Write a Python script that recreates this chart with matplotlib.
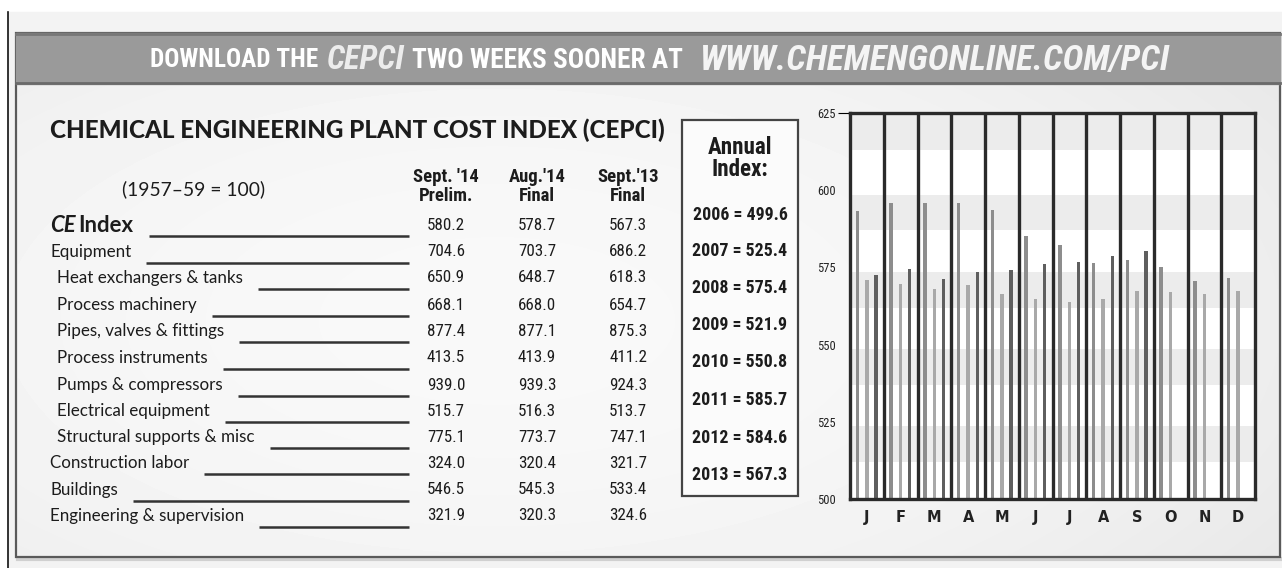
import numpy as np
import matplotlib
matplotlib.use('Agg')
import matplotlib.pyplot as plt
from matplotlib import font_manager
from matplotlib.patches import Rectangle

# ---- data ----
months = ['J', 'F', 'M', 'A', 'M', 'J', 'J', 'A', 'S', 'O', 'N', 'D']
cepci_2012 = [593.4, 595.9, 595.7, 595.7, 593.5, 585.3, 582.1, 576.3, 577.3, 575.2, 570.6, 571.7]
cepci_2013 = [570.8, 569.7, 568.1, 569.2, 566.5, 564.7, 563.8, 564.7, 567.3, 567.1, 566.3, 567.3]
cepci_2014 = [572.7, 574.6, 571.3, 573.5, 574.0, 576.0, 576.8, 578.7, 580.2]
y_ticks = [500, 525, 550, 575, 600, 625]

row_labels = ['CE Index', 'Equipment', 'Heat exchangers & tanks', 'Process machinery',
              'Pipes, valves & fittings', 'Process instruments', 'Pumps & compressors',
              'Electrical equipment', 'Structural supports & misc', 'Construction labor',
              'Buildings', 'Engineering & supervision']
row_indent = [0, 0, 1, 1, 1, 1, 1, 1, 1, 0, 0, 0]
sep14 = ['580.2', '704.6', '650.9', '668.1', '877.4', '413.5', '939.0', '515.7', '775.1', '324.0', '546.5', '321.9']
aug14 = ['578.7', '703.7', '648.7', '668.0', '877.1', '413.9', '939.3', '516.3', '773.7', '320.4', '545.3', '320.3']
sep13 = ['567.3', '686.2', '618.3', '654.7', '875.3', '411.2', '924.3', '513.7', '747.1', '321.7', '533.4', '324.6']
col_heads = [("Sept. '14", 'Prelim.'), ("Aug.'14", 'Final'), ("Sept.'13", 'Final')]

annual_years = [2006, 2007, 2008, 2009, 2010, 2011, 2012, 2013]
annual_values = [499.6, 525.4, 575.4, 521.9, 550.8, 585.7, 584.6, 567.3]

# ---- fonts ----
names = {f.name for f in font_manager.fontManager.ttflist}
narrow = 'DejaVu Sans'
for cand in ['Liberation Sans Narrow', 'Roboto Condensed', 'Roboto']:
    if cand in names:
        narrow = cand
        break
body = 'Lato' if 'Lato' in names else 'DejaVu Sans'
ink = '#1c1c1c'

W, H = 1282, 568
fig = plt.figure(figsize=(W / 100, H / 100), dpi=100)
bg = fig.add_axes([0, 0, 1, 1])
bg.axis('off')
bg.set_xlim(0, W)
bg.set_ylim(H, 0)
bg.set_autoscale_on(False)
r = fig.canvas.get_renderer()


def fit(t, width):
    w = t.get_window_extent(renderer=r).width
    t.set_fontsize(t.get_fontsize() * width / w)
    return t


def right_of(t):
    bb = t.get_window_extent(renderer=r)
    return bg.transData.inverted().transform((bb.x1, bb.y0))[0]


# ---- page / panel ----
bg.add_patch(Rectangle((8, 12), W - 8, H - 12, color='#f3f3f3', zorder=0))
bg.plot([8, 8], [12, H], color='#111111', lw=1.2, zorder=1)

yy, xx = np.mgrid[0:1:120j, 0:1:240j]
shade = 0.975 - 0.09 * (1.3 * (xx - 0.38) ** 2 + (yy - 0.55) ** 2)
bg.imshow(shade, cmap='gray', vmin=0, vmax=1, extent=(16, 1280, 557, 33),
          aspect='auto', zorder=1, interpolation='bilinear')
bg.add_patch(Rectangle((16, 33), 1264, 524, fill=False, ec='#5a5a5a', lw=1.6, zorder=2))
bg.plot([18, 1280], [559, 559], color='#d0d0d0', lw=3, zorder=1)

# banner
bg.add_patch(Rectangle((16, 33), 1264, 51, color='#9a9a9a', zorder=2))
bg.plot([16, 1280], [34, 34], color='#777777', lw=2, zorder=3)
bg.plot([16, 1280], [83, 83], color='#6a6a6a', lw=2, zorder=3)

banner = [(150, 168, 'DOWNLOAD THE', 'normal', 'white'),
          (327, 78, 'CEPCI', 'italic', '#ececec'),
          (412, 271, 'TWO WEEKS SOONER AT', 'normal', 'white'),
          (700, 470, 'WWW.CHEMENGONLINE.COM/PCI', 'italic', '#f4f4f4')]
for x0, wd, s, st, c in banner:
    t = bg.text(x0, 60, s, color=c, fontsize=16, fontweight='bold', style=st,
                family=narrow, ha='left', va='center', zorder=4)
    fit(t, wd)

# ---- table ----
t = bg.text(50, 130, 'CHEMICAL ENGINEERING PLANT COST INDEX (CEPCI)', fontsize=16,
            fontweight=900, family=body, color=ink, ha='left', va='center', zorder=4)
fit(t, 616)
t = bg.text(194, 189, '(1957\u201359 = 100)', fontsize=11, family=body, color=ink,
            ha='center', va='center', zorder=4)
fit(t, 143)

col_x = [446, 537, 628]
probe = bg.text(0, -50, "Sept. '14", fontsize=10, fontweight='bold', family=narrow)
fit(probe, 66)
head_fs = probe.get_fontsize()
probe.remove()
for cx, (h1, h2) in zip(col_x, col_heads):
    bg.text(cx, 177, h1, fontsize=head_fs, fontweight='bold', family=narrow, color=ink,
            ha='center', va='center', zorder=4)
    bg.text(cx, 196, h2, fontsize=head_fs, fontweight='bold', family=narrow, color=ink,
            ha='center', va='center', zorder=4)

probe = bg.text(0, -50, 'Heat exchangers & tanks', fontsize=10, family=body)
fit(probe, 186)
lab_fs = probe.get_fontsize()
probe.remove()
probe = bg.text(0, -50, '413.5', fontsize=10, family=narrow)
fit(probe, 38)
num_fs = probe.get_fontsize()
probe.remove()

row_y = [225, 252, 278, 305, 331, 358, 385, 411, 437, 463, 490, 516]
for i, lab in enumerate(row_labels):
    y = row_y[i]
    x = 57 if row_indent[i] else 50
    if i == 0:
        a = bg.text(50, y, 'CE', fontsize=lab_fs * 1.3, fontweight='bold', style='italic',
                    family=body, color=ink, ha='left', va='center', zorder=4)
        a = bg.text(right_of(a) + 3, y, 'Index', fontsize=lab_fs * 1.3, fontweight='bold',
                    family=body, color=ink, ha='left', va='center', zorder=4)
    else:
        a = bg.text(x, y, lab, fontsize=lab_fs, family=body, color=ink,
                    ha='left', va='center', zorder=4)
    bg.plot([right_of(a) + 15, 409], [y + 11, y + 11], color='#333333', lw=1.8,
            solid_capstyle='butt', zorder=4)
    for cx, col in zip(col_x, [sep14, aug14, sep13]):
        bg.text(cx, y, col[i], fontsize=num_fs, family=narrow, color=ink,
                ha='center', va='center', zorder=4)

# ---- annual index box ----
bg.add_patch(Rectangle((682, 120), 116, 376, fc='#fbfbfb', ec='#444444', lw=1.6, zorder=3))
t = bg.text(740, 147, 'Annual', fontsize=12, fontweight='bold', family=narrow, color=ink,
            ha='center', va='center', zorder=4)
fit(t, 64)
bg.text(740, 170, 'Index:', fontsize=t.get_fontsize(), fontweight='bold', family=narrow,
        color=ink, ha='center', va='center', zorder=4)
probe = bg.text(0, -50, '2006 = 499.6', fontsize=10, fontweight='bold', family=narrow)
fit(probe, 95)
ann_fs = probe.get_fontsize()
probe.remove()
ann_y = [215, 251, 288, 325, 362, 400, 438, 475]
for yr, v, y in zip(annual_years, annual_values, ann_y):
    bg.text(740, y, f'{yr} = {v:.1f}', fontsize=ann_fs, fontweight='bold', family=narrow,
            color=ink, ha='center', va='center', zorder=4)

# ---- monthly bar chart ----
ax = fig.add_axes([850 / W, 1 - 499 / H, 405 / W, 386 / H], zorder=5)
ax.set_facecolor('white')
for lo in [512, 537, 562, 587, 613]:
    ax.axhspan(lo, lo + 11.5, color='#ececec', lw=0, zorder=0)
x = np.arange(12)
ax.bar(x - 0.28, cepci_2012, width=0.1, color='#8d8d8d', zorder=2)
ax.bar(x, cepci_2013, width=0.1, color='#a9a9a9', zorder=2)
ax.bar(x[:len(cepci_2014)] + 0.27, cepci_2014, width=0.1, color='#5f5f5f', zorder=2)
for k in range(11):
    ax.axvline(k + 0.5, color='#2a2a2a', lw=2.4, zorder=3)
ax.set_xlim(-0.5, 11.5)
ax.set_ylim(500, 625)
for sp in ax.spines.values():
    sp.set_color('#2a2a2a')
    sp.set_linewidth(2.4)
ax.set_xticks(x)
ax.set_xticklabels(months, fontweight='bold', fontsize=10.5, color='#222222')
ax.set_yticks(y_ticks)
ax.set_yticklabels([str(v) for v in y_ticks], fontsize=9, family=narrow, color='#222222')
ax.tick_params(axis='x', length=0, pad=8)
ax.tick_params(axis='y', length=0, pad=10)
top_tick = ax.yaxis.get_major_ticks()[-1]
top_tick.tick1line.set_markersize(9)
top_tick.tick1line.set_color('#2a2a2a')

fig.savefig('out.png', dpi=100)
